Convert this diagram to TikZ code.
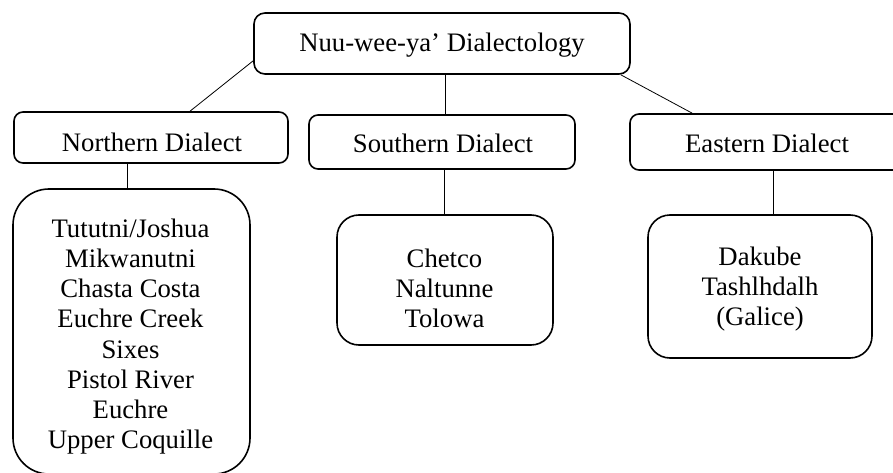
\documentclass[tikz,border=0pt]{standalone}
\usepackage{fontspec}
\setmainfont{Liberation Serif}
\begin{document}
\begin{tikzpicture}[x=1pt,y=-1pt,
  box/.style={draw,line width=1.6pt,inner sep=0pt},
  lbl/.style={inner sep=0pt,font=\fontsize{26.7}{30.2}\selectfont,align=center},
  conn/.style={line width=0.8pt}]
\useasboundingbox (0,0) rectangle (893,473);
\clip (0,0) rectangle (893,473);
% boxes
\node[box,rounded corners=11pt,minimum width=376pt,minimum height=61pt] (root) at (442,43.5) {};
\node[box,rounded corners=9pt,minimum width=274pt,minimum height=51pt] (northern) at (151,137.5) {};
\node[box,rounded corners=9pt,minimum width=266pt,minimum height=54pt] (southern) at (442,142) {};
\node[box,rounded corners=9pt,minimum width=274pt,minimum height=56pt] (east) at (767,142) {};
\node[box,rounded corners=36pt,minimum width=237pt,minimum height=285pt] (nkids) at (131.5,331.5) {};
\node[box,rounded corners=22pt,minimum width=216pt,minimum height=130pt] (skids) at (445,280) {};
\node[box,rounded corners=22pt,minimum width=224pt,minimum height=143pt] (ekids) at (760,286.5) {};
% texts
\node[lbl,anchor=base] (roottxt) at (442,52) {Nuu-wee-ya’ Dialectology};
\node[lbl,anchor=base] (northtxt) at (152,152) {Northern Dialect};
\node[lbl,anchor=base] (southtxt) at (443,153) {Southern Dialect};
\node[lbl,anchor=base] (easttxt) at (767,153) {Eastern Dialect};
\node[lbl,anchor=north] (nkidstxt) at (130.5,218.6) {Tututni/Joshua\\Mikwanutni\\Chasta Costa\\Euchre Creek\\Sixes\\Pistol River\\Euchre\\Upper Coquille};
\node[lbl,anchor=north] (skidstxt) at (444.5,248.8) {Chetco\\Naltunne\\Tolowa};
\node[lbl,anchor=north] (ekidstxt) at (760,246.8) {Dakube\\Tashlhdalh\\(Galice)};
% connectors
\draw[conn] ([yshift=14pt]root.south west) -- ([xshift=39pt]northern.north);
\draw[conn] ([xshift=3pt]root.south) -- ([xshift=3pt]southern.north);
\draw[conn] ([xshift=-10pt]root.south east) -- ([xshift=63pt]east.north west);
\draw[conn] ([xshift=-4pt]nkids.north) -- ([xshift=-4pt]nkids.north |- northern.south);
\draw[conn] ([xshift=-1pt]skids.north) -- ([xshift=-1pt]skids.north |- southern.south);
\draw[conn] ([xshift=6pt]east.south) -- ([xshift=6pt]east.south |- ekids.north);
\end{tikzpicture}
\end{document}
